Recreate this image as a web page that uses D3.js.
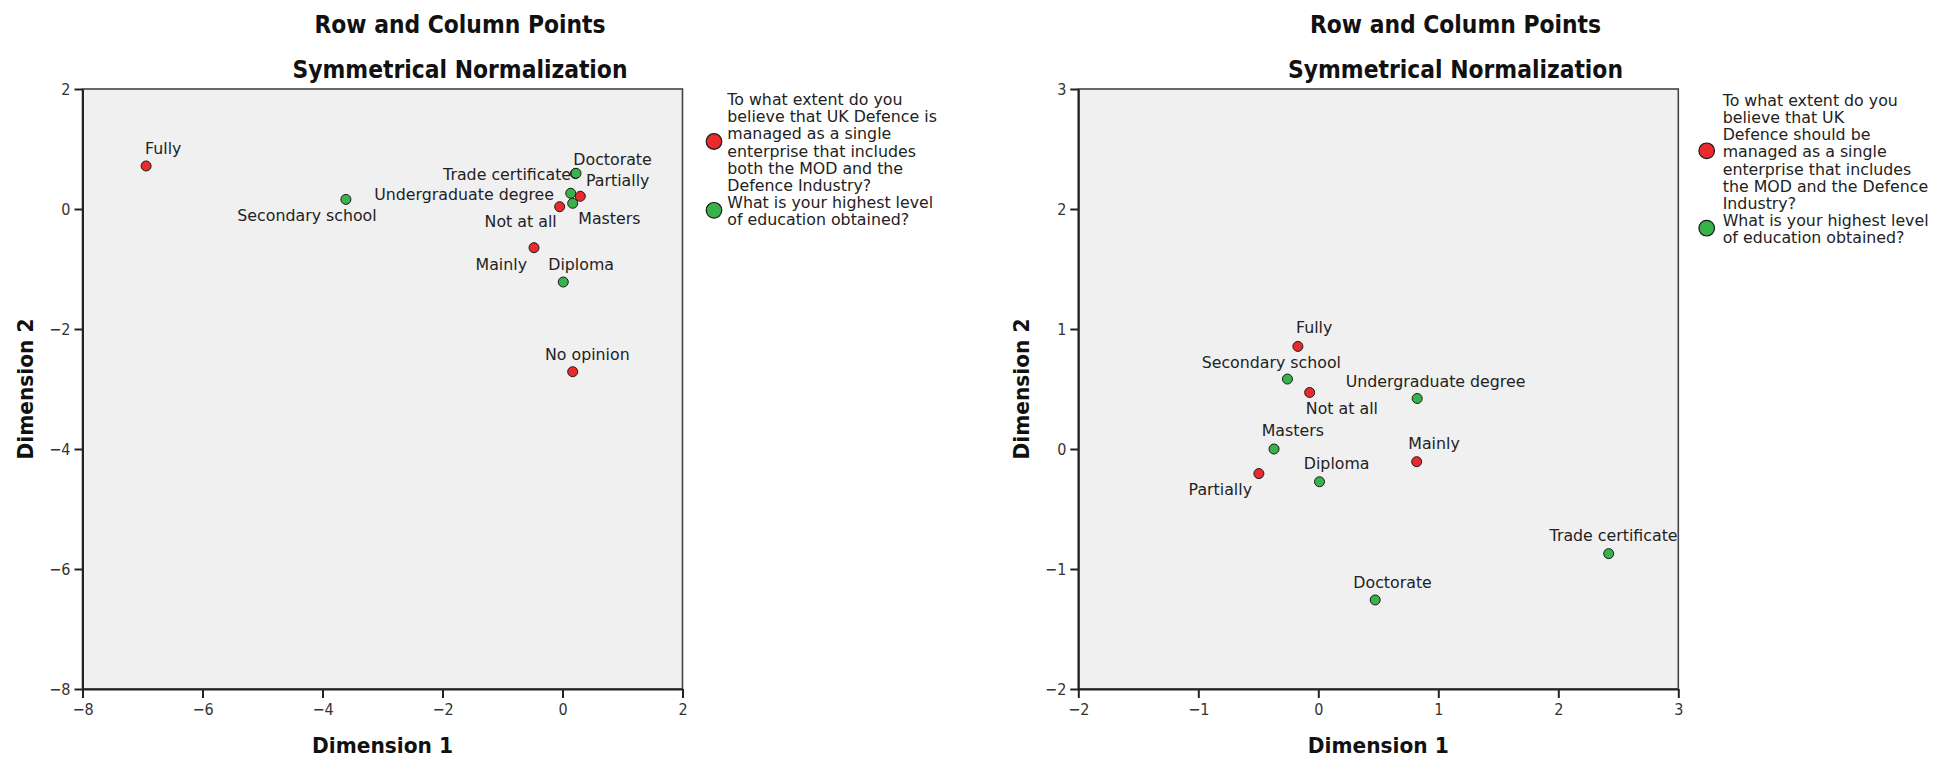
<!DOCTYPE html>
<html><head><meta charset="utf-8">
<script src="https://cdn.jsdelivr.net/npm/d3@7/dist/d3.min.js"></script>
<style>body{margin:0;background:#fff;} svg{display:block;} .tick text{font-stretch:condensed;}</style>
</head><body>
<svg id="chart" width="1947" height="761"></svg>
<script>
// ---------------- DATA ----------------
const titleLine1 = "Row and Column Points";
const titleLine2 = "Symmetrical Normalization";
const xAxisTitle = "Dimension 1";
const yAxisTitle = "Dimension 2";

// Left chart (question: "is managed")
const leftTicks = [-8, -6, -4, -2, 0, 2];
const leftRowLabels = ["Fully", "Mainly", "Partially", "Not at all", "No opinion"];
const leftRowDim1 = [-6.94, -0.475, 0.297, -0.047, 0.17];
const leftRowDim2 = [0.717, -0.645, 0.212, 0.038, -2.712];
const leftColLabels = ["Secondary school", "Trade certificate", "Diploma", "Undergraduate degree", "Masters", "Doctorate"];
const leftColDim1 = [-3.61, 0.215, 0.013, 0.137, 0.17, 0.225];
const leftColDim2 = [0.16, 0.59, -1.217, 0.262, 0.095, 0.595];
const leftLegendRow = ["To what extent do you", "believe that UK Defence is", "managed as a single", "enterprise that includes", "both the MOD and the", "Defence Industry?"];
const leftLegendCol = ["What is your highest level", "of education obtained?"];

// Right chart (question: "should be managed")
const rightTicks = [-2, -1, 0, 1, 2, 3];
const rightRowLabels = ["Fully", "Mainly", "Partially", "Not at all"];
const rightRowDim1 = [-0.17, 0.82, -0.495, -0.072];
const rightRowDim2 = [0.855, -0.106, -0.205, 0.471];
const rightColLabels = ["Secondary school", "Trade certificate", "Diploma", "Undergraduate degree", "Masters", "Doctorate"];
const rightColDim1 = [-0.257, 2.42, 0.01, 0.824, -0.369, 0.474];
const rightColDim2 = [0.583, -0.872, -0.273, 0.421, 0.0, -1.258];
const rightLegendRow = ["To what extent do you", "believe that UK", "Defence should be", "managed as a single", "enterprise that includes", "the MOD and the Defence", "Industry?"];
const rightLegendCol = ["What is your highest level", "of education obtained?"];

// ---------------- LAYOUT (label placement, not data) ----------------
// [anchor, dx, dy] relative to the point centre
const leftRowLabelPos = [["start", -1, -11.7], ["end", -7, 22.3], ["start", 5.7, -10.3], ["end", -3, 20], ["start", -27.7, -11.7]];
const leftColLabelPos = [["middle", -38.9, 21.2], ["end", -4.3, 6.7], ["start", -15, -12], ["end", -16.7, 6.7], ["start", 5.6, 20.7], ["start", -2.7, -8.3]];
const rightRowLabelPos = [["start", -1.9, -13], ["start", -8.4, -12.4], ["end", -6.9, 21.1], ["start", -3.8, 21.1]];
const rightColLabelPos = [["middle", -16.1, -11], ["middle", 4.9, -13], ["start", -15.7, -12.4], ["middle", 18.4, -11.8], ["start", -12.3, -13], ["middle", 17.4, -12.4]];

const RED = "#ea2b2e", GREEN = "#38b24a";
const LABEL_FONT = "'DejaVu Sans', 'Lucida Grande', sans-serif";
const TICK_FONT = "'Liberation Sans Narrow', 'DejaVu Sans Condensed', 'Arial Narrow', 'DejaVu Sans', sans-serif";
const TITLE_FONT = "'Liberation Sans Narrow', 'DejaVu Sans Condensed', 'Liberation Sans', sans-serif";

const svg = d3.select("#chart");

function drawPanel(cfg) {
  const g = svg.append("g");
  const x = d3.scaleLinear().domain(cfg.xDomain).range([cfg.left, cfg.left + cfg.w]);
  const y = d3.scaleLinear().domain(cfg.yDomain).range([cfg.top + cfg.h, cfg.top]);

  // titles
  g.append("text").attr("x", cfg.titleCx).attr("y", 33.3)
    .attr("text-anchor", "middle").attr("font-family", TITLE_FONT).attr("font-weight", "bold")
    .attr("font-size", 25).attr("fill", "#111")
    .attr("textLength", 291).attr("lengthAdjust", "spacingAndGlyphs").text(titleLine1);
  g.append("text").attr("x", cfg.titleCx).attr("y", 78.1)
    .attr("text-anchor", "middle").attr("font-family", TITLE_FONT).attr("font-weight", "bold")
    .attr("font-size", 25).attr("fill", "#111")
    .attr("textLength", 335).attr("lengthAdjust", "spacingAndGlyphs").text(titleLine2);

  // plot background + frame
  g.append("rect").attr("x", cfg.left).attr("y", cfg.top).attr("width", cfg.w).attr("height", cfg.h)
    .attr("fill", "#f0f0f0").attr("stroke", "#444").attr("stroke-width", 1.6);

  // axes
  const ax = g.append("g").attr("transform", `translate(0,${cfg.top + cfg.h})`)
    .call(d3.axisBottom(x).tickValues(cfg.ticks).tickSize(9).tickSizeOuter(0).tickPadding(6).tickFormat(d3.format("d")));
  const ay = g.append("g").attr("transform", `translate(${cfg.left},0)`)
    .call(d3.axisLeft(y).tickValues(cfg.ticks).tickSize(8).tickSizeOuter(0).tickPadding(4).tickFormat(d3.format("d")));
  [ax, ay].forEach(a => {
    a.select(".domain").attr("stroke", "#222").attr("stroke-width", 2);
    a.selectAll(".tick line").attr("stroke", "#222").attr("stroke-width", 2);
    a.selectAll(".tick text").attr("font-family", TICK_FONT).attr("font-size", 16).attr("fill", "#333");
  });

  // axis titles
  g.append("text").attr("x", cfg.left + cfg.w / 2).attr("y", 752.7)
    .attr("text-anchor", "middle").attr("font-family", TITLE_FONT).attr("font-weight", "bold")
    .attr("font-size", 22).attr("fill", "#111")
    .attr("textLength", 141).attr("lengthAdjust", "spacingAndGlyphs").text(xAxisTitle);
  g.append("text").attr("transform", `translate(${cfg.left - 49.5},${cfg.top + cfg.h / 2}) rotate(-90)`)
    .attr("text-anchor", "middle").attr("font-family", TITLE_FONT).attr("font-weight", "bold")
    .attr("font-size", 22).attr("fill", "#111")
    .attr("textLength", 141).attr("lengthAdjust", "spacingAndGlyphs").text(yAxisTitle);

  // points
  const rows = cfg.rowLabels.map((l, i) => ({label: l, d1: cfg.rowD1[i], d2: cfg.rowD2[i], pos: cfg.rowPos[i], color: RED}));
  const cols = cfg.colLabels.map((l, i) => ({label: l, d1: cfg.colD1[i], d2: cfg.colD2[i], pos: cfg.colPos[i], color: GREEN}));
  const all = rows.concat(cols);

  g.selectAll("circle.pt").data(all).enter().append("circle").attr("class", "pt")
    .attr("cx", d => x(d.d1)).attr("cy", d => y(d.d2)).attr("r", 5)
    .attr("fill", d => d.color).attr("stroke", "#1a1a1a").attr("stroke-width", 1);

  g.selectAll("text.lbl").data(all).enter().append("text").attr("class", "lbl")
    .attr("x", d => x(d.d1) + d.pos[1]).attr("y", d => y(d.d2) + d.pos[2])
    .attr("text-anchor", d => d.pos[0])
    .attr("font-family", LABEL_FONT).attr("font-size", 15.8).attr("fill", "#222")
    .text(d => d.label);

  // legend
  const lh = 17.2;
  const groups = [{lines: cfg.legRow, color: RED}, {lines: cfg.legCol, color: GREEN}];
  let base = cfg.legTop;
  groups.forEach(gr => {
    const first = base;
    gr.lines.forEach((ln, i) => {
      g.append("text").attr("x", cfg.legX).attr("y", base + i * lh)
        .attr("font-family", LABEL_FONT).attr("font-size", 15.8).attr("fill", "#222").text(ln);
    });
    const last = base + (gr.lines.length - 1) * lh;
    g.append("circle").attr("cx", cfg.legCx).attr("cy", (first + last) / 2 - 6.5).attr("r", 7.8)
      .attr("fill", gr.color).attr("stroke", "#1a1a1a").attr("stroke-width", 1.2);
    base = last + lh;
  });
}

drawPanel({
  left: 82.5, top: 89, w: 600, h: 600,
  xDomain: [-8, 2], yDomain: [-8, 2], ticks: leftTicks, titleCx: 460,
  rowLabels: leftRowLabels, rowD1: leftRowDim1, rowD2: leftRowDim2, rowPos: leftRowLabelPos,
  colLabels: leftColLabels, colD1: leftColDim1, colD2: leftColDim2, colPos: leftColLabelPos,
  legRow: leftLegendRow, legCol: leftLegendCol, legX: 727.3, legCx: 714, legTop: 105
});
drawPanel({
  left: 1078.3, top: 89, w: 600, h: 600,
  xDomain: [-2, 3], yDomain: [-2, 3], ticks: rightTicks, titleCx: 1455.5,
  rowLabels: rightRowLabels, rowD1: rightRowDim1, rowD2: rightRowDim2, rowPos: rightRowLabelPos,
  colLabels: rightColLabels, colD1: rightColDim1, colD2: rightColDim2, colPos: rightColLabelPos,
  legRow: rightLegendRow, legCol: rightLegendCol, legX: 1722.7, legCx: 1706.7, legTop: 105.7
});
</script>
</body></html>
